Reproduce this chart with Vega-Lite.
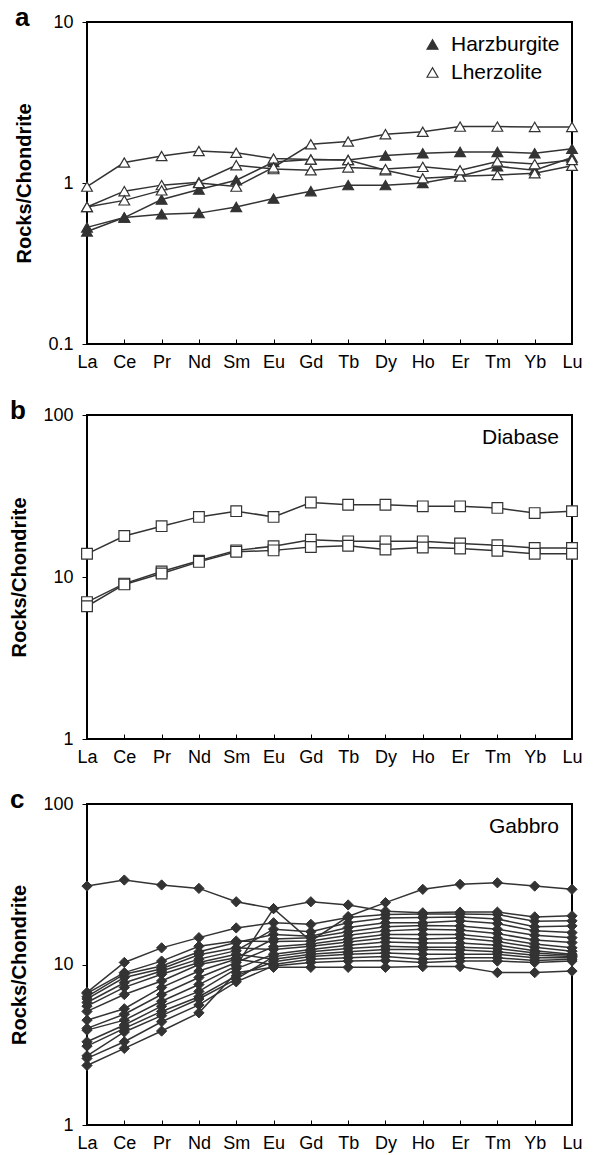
{
"$schema": "https://vega.github.io/schema/vega-lite/v6.json",
"padding": {"left": 8, "top": 4, "right": 5, "bottom": 0},
"config": {
  "font": "Liberation Sans",
  "view": {"stroke": "#000", "strokeWidth": 2},
  "axis": {"grid": false, "domain": false, "labelColor": "#000", "tickColor": "#000", "titleColor": "#000"},
  "axisX": {"tickSize": -5, "labelPadding": 14, "labelFontSize": 18, "labelAngle": 0, "title": null},
  "axisY": {"tickSize": 5, "labelPadding": 9, "labelFontSize": 18, "titleFontSize": 20, "titleFontWeight": "bold", "titlePadding": 13},
  "legend": {"orient": "top-right", "offset": 12, "padding": 0, "title": null, "labelFontSize": 21, "labelColor": "#000", "rowPadding": 6, "labelOffset": 8},
  "title": {"anchor": "start", "frame": "bounds", "fontSize": 26, "fontWeight": "bold", "color": "#000", "offset": 0, "dy": 22, "dx": 0, "baseline": "bottom"}
},
"spacing": 19,
"resolve": {"scale": {"fill": "independent", "y": "independent"}, "legend": {"fill": "independent"}},
"vconcat": [
 {
  "spacing": 25,
  "resolve": {"scale": {"fill": "independent", "y": "independent"}, "legend": {"fill": "independent"}},
  "vconcat": [
  {
    "width": 485, "height": 322,
    "title": "a",
    "data": {"values": [
      {"s":"H1","t":"Harzburgite","e":"La","v":0.53},{"s":"H1","t":"Harzburgite","e":"Ce","v":0.61},{"s":"H1","t":"Harzburgite","e":"Pr","v":0.64},{"s":"H1","t":"Harzburgite","e":"Nd","v":0.65},{"s":"H1","t":"Harzburgite","e":"Sm","v":0.71},{"s":"H1","t":"Harzburgite","e":"Eu","v":0.80},{"s":"H1","t":"Harzburgite","e":"Gd","v":0.89},{"s":"H1","t":"Harzburgite","e":"Tb","v":0.97},{"s":"H1","t":"Harzburgite","e":"Dy","v":0.97},{"s":"H1","t":"Harzburgite","e":"Ho","v":1.0},{"s":"H1","t":"Harzburgite","e":"Er","v":1.1},{"s":"H1","t":"Harzburgite","e":"Tm","v":1.27},{"s":"H1","t":"Harzburgite","e":"Yb","v":1.2},{"s":"H1","t":"Harzburgite","e":"Lu","v":1.44},
      {"s":"H2","t":"Harzburgite","e":"La","v":0.50},{"s":"H2","t":"Harzburgite","e":"Ce","v":0.61},{"s":"H2","t":"Harzburgite","e":"Pr","v":0.79},{"s":"H2","t":"Harzburgite","e":"Nd","v":0.91},{"s":"H2","t":"Harzburgite","e":"Sm","v":1.04},{"s":"H2","t":"Harzburgite","e":"Eu","v":1.35},{"s":"H2","t":"Harzburgite","e":"Gd","v":1.40},{"s":"H2","t":"Harzburgite","e":"Tb","v":1.39},{"s":"H2","t":"Harzburgite","e":"Dy","v":1.48},{"s":"H2","t":"Harzburgite","e":"Ho","v":1.53},{"s":"H2","t":"Harzburgite","e":"Er","v":1.56},{"s":"H2","t":"Harzburgite","e":"Tm","v":1.56},{"s":"H2","t":"Harzburgite","e":"Yb","v":1.53},{"s":"H2","t":"Harzburgite","e":"Lu","v":1.63},
      {"s":"L1","t":"Lherzolite","e":"La","v":0.95},{"s":"L1","t":"Lherzolite","e":"Ce","v":1.34},{"s":"L1","t":"Lherzolite","e":"Pr","v":1.47},{"s":"L1","t":"Lherzolite","e":"Nd","v":1.58},{"s":"L1","t":"Lherzolite","e":"Sm","v":1.54},{"s":"L1","t":"Lherzolite","e":"Eu","v":1.42},{"s":"L1","t":"Lherzolite","e":"Gd","v":1.40},{"s":"L1","t":"Lherzolite","e":"Tb","v":1.39},{"s":"L1","t":"Lherzolite","e":"Dy","v":1.20},{"s":"L1","t":"Lherzolite","e":"Ho","v":1.07},{"s":"L1","t":"Lherzolite","e":"Er","v":1.10},{"s":"L1","t":"Lherzolite","e":"Tm","v":1.12},{"s":"L1","t":"Lherzolite","e":"Yb","v":1.15},{"s":"L1","t":"Lherzolite","e":"Lu","v":1.28},
      {"s":"L2","t":"Lherzolite","e":"La","v":0.71},{"s":"L2","t":"Lherzolite","e":"Ce","v":0.89},{"s":"L2","t":"Lherzolite","e":"Pr","v":0.97},{"s":"L2","t":"Lherzolite","e":"Nd","v":1.01},{"s":"L2","t":"Lherzolite","e":"Sm","v":1.29},{"s":"L2","t":"Lherzolite","e":"Eu","v":1.22},{"s":"L2","t":"Lherzolite","e":"Gd","v":1.20},{"s":"L2","t":"Lherzolite","e":"Tb","v":1.25},{"s":"L2","t":"Lherzolite","e":"Dy","v":1.22},{"s":"L2","t":"Lherzolite","e":"Ho","v":1.26},{"s":"L2","t":"Lherzolite","e":"Er","v":1.20},{"s":"L2","t":"Lherzolite","e":"Tm","v":1.36},{"s":"L2","t":"Lherzolite","e":"Yb","v":1.31},{"s":"L2","t":"Lherzolite","e":"Lu","v":1.39},
      {"s":"L3","t":"Lherzolite","e":"La","v":0.71},{"s":"L3","t":"Lherzolite","e":"Ce","v":0.78},{"s":"L3","t":"Lherzolite","e":"Pr","v":0.90},{"s":"L3","t":"Lherzolite","e":"Nd","v":1.00},{"s":"L3","t":"Lherzolite","e":"Sm","v":0.95},{"s":"L3","t":"Lherzolite","e":"Eu","v":1.25},{"s":"L3","t":"Lherzolite","e":"Gd","v":1.74},{"s":"L3","t":"Lherzolite","e":"Tb","v":1.81},{"s":"L3","t":"Lherzolite","e":"Dy","v":2.01},{"s":"L3","t":"Lherzolite","e":"Ho","v":2.08},{"s":"L3","t":"Lherzolite","e":"Er","v":2.24},{"s":"L3","t":"Lherzolite","e":"Tm","v":2.24},{"s":"L3","t":"Lherzolite","e":"Yb","v":2.23},{"s":"L3","t":"Lherzolite","e":"Lu","v":2.23}
    ]},
    "encoding": {
      "x": {"field": "e", "type": "ordinal", "sort": ["La","Ce","Pr","Nd","Sm","Eu","Gd","Tb","Dy","Ho","Er","Tm","Yb","Lu"], "scale": {"type": "point", "padding": 0}},
      "y": {"field": "v", "type": "quantitative", "scale": {"type": "log", "domain": [0.1, 10], "nice": false}, "axis": {"values": [0.1, 1, 10], "format": "~g", "title": "Rocks/Chondrite"}}
    },
    "layer": [
      {"mark": {"type": "line", "color": "#333", "strokeWidth": 1.5}, "encoding": {"detail": {"field": "s"}}},
      {"mark": {"type": "point", "shape": "triangle-up", "size": 115, "filled": true, "stroke": "#333", "strokeWidth": 1.2, "opacity": 1},
       "encoding": {"fill": {"field": "t", "type": "nominal", "scale": {"domain": ["Harzburgite", "Lherzolite"], "range": ["#333333", "#ffffff"]},
         "legend": {"symbolType": "triangle-up", "symbolSize": 120, "symbolStrokeColor": "#333", "symbolStrokeWidth": 1.2}}}}
    ]
  },
  {
    "width": 485, "height": 324,
    "title": "b",
    "data": {"values": [
      {"s":"D1","t":"Diabase","e":"La","v":13.9},{"s":"D1","t":"Diabase","e":"Ce","v":17.9},{"s":"D1","t":"Diabase","e":"Pr","v":20.6},{"s":"D1","t":"Diabase","e":"Nd","v":23.5},{"s":"D1","t":"Diabase","e":"Sm","v":25.5},{"s":"D1","t":"Diabase","e":"Eu","v":23.5},{"s":"D1","t":"Diabase","e":"Gd","v":28.8},{"s":"D1","t":"Diabase","e":"Tb","v":27.9},{"s":"D1","t":"Diabase","e":"Dy","v":27.9},{"s":"D1","t":"Diabase","e":"Ho","v":27.3},{"s":"D1","t":"Diabase","e":"Er","v":27.3},{"s":"D1","t":"Diabase","e":"Tm","v":26.7},{"s":"D1","t":"Diabase","e":"Yb","v":24.8},{"s":"D1","t":"Diabase","e":"Lu","v":25.5},
      {"s":"D2","t":"Diabase","e":"La","v":7.0},{"s":"D2","t":"Diabase","e":"Ce","v":9.1},{"s":"D2","t":"Diabase","e":"Pr","v":10.8},{"s":"D2","t":"Diabase","e":"Nd","v":12.6},{"s":"D2","t":"Diabase","e":"Sm","v":14.6},{"s":"D2","t":"Diabase","e":"Eu","v":15.5},{"s":"D2","t":"Diabase","e":"Gd","v":17.0},{"s":"D2","t":"Diabase","e":"Tb","v":16.6},{"s":"D2","t":"Diabase","e":"Dy","v":16.6},{"s":"D2","t":"Diabase","e":"Ho","v":16.6},{"s":"D2","t":"Diabase","e":"Er","v":16.1},{"s":"D2","t":"Diabase","e":"Tm","v":15.7},{"s":"D2","t":"Diabase","e":"Yb","v":15.1},{"s":"D2","t":"Diabase","e":"Lu","v":15.1},
      {"s":"D3","t":"Diabase","e":"La","v":6.6},{"s":"D3","t":"Diabase","e":"Ce","v":9.0},{"s":"D3","t":"Diabase","e":"Pr","v":10.5},{"s":"D3","t":"Diabase","e":"Nd","v":12.4},{"s":"D3","t":"Diabase","e":"Sm","v":14.3},{"s":"D3","t":"Diabase","e":"Eu","v":14.6},{"s":"D3","t":"Diabase","e":"Gd","v":15.3},{"s":"D3","t":"Diabase","e":"Tb","v":15.6},{"s":"D3","t":"Diabase","e":"Dy","v":14.8},{"s":"D3","t":"Diabase","e":"Ho","v":15.2},{"s":"D3","t":"Diabase","e":"Er","v":15.0},{"s":"D3","t":"Diabase","e":"Tm","v":14.5},{"s":"D3","t":"Diabase","e":"Yb","v":13.9},{"s":"D3","t":"Diabase","e":"Lu","v":13.9}
    ]},
    "encoding": {
      "x": {"field": "e", "type": "ordinal", "sort": ["La","Ce","Pr","Nd","Sm","Eu","Gd","Tb","Dy","Ho","Er","Tm","Yb","Lu"], "scale": {"type": "point", "padding": 0}},
      "y": {"field": "v", "type": "quantitative", "scale": {"type": "log", "domain": [1, 100], "nice": false}, "axis": {"values": [1, 10, 100], "format": "~g", "title": "Rocks/Chondrite"}}
    },
    "layer": [
      {"mark": {"type": "line", "color": "#333", "strokeWidth": 1.5}, "encoding": {"detail": {"field": "s"}}},
      {"mark": {"type": "point", "shape": "square", "size": 115, "filled": true, "stroke": "#333", "strokeWidth": 1.2, "opacity": 1},
       "encoding": {"fill": {"field": "t", "type": "nominal", "scale": {"domain": ["Diabase"], "range": ["#ffffff"]},
         "legend": {"symbolOpacity": 0, "symbolStrokeWidth": 0}}}}
    ]
  }
  ]
 },
  {
    "width": 485, "height": 321,
    "title": "c",
    "data": {"values": [
      {"s":"G1","t":"Gabbro","e":"La","v":30.8},{"s":"G1","t":"Gabbro","e":"Ce","v":33.6},{"s":"G1","t":"Gabbro","e":"Pr","v":31.3},{"s":"G1","t":"Gabbro","e":"Nd","v":29.8},{"s":"G1","t":"Gabbro","e":"Sm","v":24.6},{"s":"G1","t":"Gabbro","e":"Eu","v":22.3},{"s":"G1","t":"Gabbro","e":"Gd","v":14.0},{"s":"G1","t":"Gabbro","e":"Tb","v":19.9},{"s":"G1","t":"Gabbro","e":"Dy","v":24.3},{"s":"G1","t":"Gabbro","e":"Ho","v":29.4},{"s":"G1","t":"Gabbro","e":"Er","v":31.6},{"s":"G1","t":"Gabbro","e":"Tm","v":32.3},{"s":"G1","t":"Gabbro","e":"Yb","v":30.8},{"s":"G1","t":"Gabbro","e":"Lu","v":29.4},
      {"s":"G2","t":"Gabbro","e":"La","v":6.7},{"s":"G2","t":"Gabbro","e":"Ce","v":10.3},{"s":"G2","t":"Gabbro","e":"Pr","v":12.7},{"s":"G2","t":"Gabbro","e":"Nd","v":14.7},{"s":"G2","t":"Gabbro","e":"Sm","v":16.9},{"s":"G2","t":"Gabbro","e":"Eu","v":18.2},{"s":"G2","t":"Gabbro","e":"Gd","v":17.8},{"s":"G2","t":"Gabbro","e":"Tb","v":19.6},{"s":"G2","t":"Gabbro","e":"Dy","v":20.5},{"s":"G2","t":"Gabbro","e":"Ho","v":20.6},{"s":"G2","t":"Gabbro","e":"Er","v":20.6},{"s":"G2","t":"Gabbro","e":"Tm","v":20.5},{"s":"G2","t":"Gabbro","e":"Yb","v":18.6},{"s":"G2","t":"Gabbro","e":"Lu","v":18.7},
      {"s":"G3","t":"Gabbro","e":"La","v":6.6},{"s":"G3","t":"Gabbro","e":"Ce","v":8.9},{"s":"G3","t":"Gabbro","e":"Pr","v":10.5},{"s":"G3","t":"Gabbro","e":"Nd","v":13.0},{"s":"G3","t":"Gabbro","e":"Sm","v":14.0},{"s":"G3","t":"Gabbro","e":"Eu","v":13.9},{"s":"G3","t":"Gabbro","e":"Gd","v":14.0},{"s":"G3","t":"Gabbro","e":"Tb","v":15.2},{"s":"G3","t":"Gabbro","e":"Dy","v":16.2},{"s":"G3","t":"Gabbro","e":"Ho","v":16.6},{"s":"G3","t":"Gabbro","e":"Er","v":16.4},{"s":"G3","t":"Gabbro","e":"Tm","v":15.6},{"s":"G3","t":"Gabbro","e":"Yb","v":14.2},{"s":"G3","t":"Gabbro","e":"Lu","v":13.7},
      {"s":"G4","t":"Gabbro","e":"La","v":6.3},{"s":"G4","t":"Gabbro","e":"Ce","v":8.7},{"s":"G4","t":"Gabbro","e":"Pr","v":9.8},{"s":"G4","t":"Gabbro","e":"Nd","v":12.0},{"s":"G4","t":"Gabbro","e":"Sm","v":13.7},{"s":"G4","t":"Gabbro","e":"Eu","v":15.4},{"s":"G4","t":"Gabbro","e":"Gd","v":15.0},{"s":"G4","t":"Gabbro","e":"Tb","v":17.0},{"s":"G4","t":"Gabbro","e":"Dy","v":18.2},{"s":"G4","t":"Gabbro","e":"Ho","v":18.2},{"s":"G4","t":"Gabbro","e":"Er","v":18.7},{"s":"G4","t":"Gabbro","e":"Tm","v":18.0},{"s":"G4","t":"Gabbro","e":"Yb","v":16.2},{"s":"G4","t":"Gabbro","e":"Lu","v":15.8},
      {"s":"G5","t":"Gabbro","e":"La","v":6.1},{"s":"G5","t":"Gabbro","e":"Ce","v":8.3},{"s":"G5","t":"Gabbro","e":"Pr","v":9.4},{"s":"G5","t":"Gabbro","e":"Nd","v":11.5},{"s":"G5","t":"Gabbro","e":"Sm","v":12.7},{"s":"G5","t":"Gabbro","e":"Eu","v":12.4},{"s":"G5","t":"Gabbro","e":"Gd","v":13.0},{"s":"G5","t":"Gabbro","e":"Tb","v":13.8},{"s":"G5","t":"Gabbro","e":"Dy","v":14.6},{"s":"G5","t":"Gabbro","e":"Ho","v":14.4},{"s":"G5","t":"Gabbro","e":"Er","v":14.6},{"s":"G5","t":"Gabbro","e":"Tm","v":13.9},{"s":"G5","t":"Gabbro","e":"Yb","v":12.8},{"s":"G5","t":"Gabbro","e":"Lu","v":12.1},
      {"s":"G6","t":"Gabbro","e":"La","v":5.8},{"s":"G6","t":"Gabbro","e":"Ce","v":7.7},{"s":"G6","t":"Gabbro","e":"Pr","v":9.1},{"s":"G6","t":"Gabbro","e":"Nd","v":10.8},{"s":"G6","t":"Gabbro","e":"Sm","v":12.2},{"s":"G6","t":"Gabbro","e":"Eu","v":16.6},{"s":"G6","t":"Gabbro","e":"Gd","v":16.0},{"s":"G6","t":"Gabbro","e":"Tb","v":18.2},{"s":"G6","t":"Gabbro","e":"Dy","v":19.5},{"s":"G6","t":"Gabbro","e":"Ho","v":19.6},{"s":"G6","t":"Gabbro","e":"Er","v":19.8},{"s":"G6","t":"Gabbro","e":"Tm","v":19.2},{"s":"G6","t":"Gabbro","e":"Yb","v":17.2},{"s":"G6","t":"Gabbro","e":"Lu","v":17.4},
      {"s":"G7","t":"Gabbro","e":"La","v":5.5},{"s":"G7","t":"Gabbro","e":"Ce","v":7.2},{"s":"G7","t":"Gabbro","e":"Pr","v":8.7},{"s":"G7","t":"Gabbro","e":"Nd","v":10.3},{"s":"G7","t":"Gabbro","e":"Sm","v":11.6},{"s":"G7","t":"Gabbro","e":"Eu","v":10.8},{"s":"G7","t":"Gabbro","e":"Gd","v":11.6},{"s":"G7","t":"Gabbro","e":"Tb","v":12.0},{"s":"G7","t":"Gabbro","e":"Dy","v":12.4},{"s":"G7","t":"Gabbro","e":"Ho","v":12.4},{"s":"G7","t":"Gabbro","e":"Er","v":12.3},{"s":"G7","t":"Gabbro","e":"Tm","v":12.0},{"s":"G7","t":"Gabbro","e":"Yb","v":11.4},{"s":"G7","t":"Gabbro","e":"Lu","v":11.2},
      {"s":"G8","t":"Gabbro","e":"La","v":5.1},{"s":"G8","t":"Gabbro","e":"Ce","v":6.5},{"s":"G8","t":"Gabbro","e":"Pr","v":7.9},{"s":"G8","t":"Gabbro","e":"Nd","v":10.0},{"s":"G8","t":"Gabbro","e":"Sm","v":11.0},{"s":"G8","t":"Gabbro","e":"Eu","v":14.4},{"s":"G8","t":"Gabbro","e":"Gd","v":14.7},{"s":"G8","t":"Gabbro","e":"Tb","v":16.0},{"s":"G8","t":"Gabbro","e":"Dy","v":17.2},{"s":"G8","t":"Gabbro","e":"Ho","v":17.5},{"s":"G8","t":"Gabbro","e":"Er","v":17.4},{"s":"G8","t":"Gabbro","e":"Tm","v":16.6},{"s":"G8","t":"Gabbro","e":"Yb","v":15.2},{"s":"G8","t":"Gabbro","e":"Lu","v":14.7},
      {"s":"G9","t":"Gabbro","e":"La","v":4.5},{"s":"G9","t":"Gabbro","e":"Ce","v":5.3},{"s":"G9","t":"Gabbro","e":"Pr","v":7.2},{"s":"G9","t":"Gabbro","e":"Nd","v":9.1},{"s":"G9","t":"Gabbro","e":"Sm","v":10.8},{"s":"G9","t":"Gabbro","e":"Eu","v":10.0},{"s":"G9","t":"Gabbro","e":"Gd","v":10.8},{"s":"G9","t":"Gabbro","e":"Tb","v":11.0},{"s":"G9","t":"Gabbro","e":"Dy","v":11.2},{"s":"G9","t":"Gabbro","e":"Ho","v":10.8},{"s":"G9","t":"Gabbro","e":"Er","v":11.0},{"s":"G9","t":"Gabbro","e":"Tm","v":11.0},{"s":"G9","t":"Gabbro","e":"Yb","v":10.6},{"s":"G9","t":"Gabbro","e":"Lu","v":10.8},
      {"s":"G10","t":"Gabbro","e":"La","v":4.0},{"s":"G10","t":"Gabbro","e":"Ce","v":4.9},{"s":"G10","t":"Gabbro","e":"Pr","v":6.5},{"s":"G10","t":"Gabbro","e":"Nd","v":8.3},{"s":"G10","t":"Gabbro","e":"Sm","v":10.3},{"s":"G10","t":"Gabbro","e":"Eu","v":12.9},{"s":"G10","t":"Gabbro","e":"Gd","v":13.4},{"s":"G10","t":"Gabbro","e":"Tb","v":14.4},{"s":"G10","t":"Gabbro","e":"Dy","v":15.4},{"s":"G10","t":"Gabbro","e":"Ho","v":15.4},{"s":"G10","t":"Gabbro","e":"Er","v":15.4},{"s":"G10","t":"Gabbro","e":"Tm","v":14.6},{"s":"G10","t":"Gabbro","e":"Yb","v":13.4},{"s":"G10","t":"Gabbro","e":"Lu","v":12.7},
      {"s":"G11","t":"Gabbro","e":"La","v":3.9},{"s":"G11","t":"Gabbro","e":"Ce","v":4.5},{"s":"G11","t":"Gabbro","e":"Pr","v":5.9},{"s":"G11","t":"Gabbro","e":"Nd","v":7.5},{"s":"G11","t":"Gabbro","e":"Sm","v":9.8},{"s":"G11","t":"Gabbro","e":"Eu","v":22.3},{"s":"G11","t":"Gabbro","e":"Gd","v":24.6},{"s":"G11","t":"Gabbro","e":"Tb","v":23.5},{"s":"G11","t":"Gabbro","e":"Dy","v":21.5},{"s":"G11","t":"Gabbro","e":"Ho","v":21.0},{"s":"G11","t":"Gabbro","e":"Er","v":21.2},{"s":"G11","t":"Gabbro","e":"Tm","v":21.2},{"s":"G11","t":"Gabbro","e":"Yb","v":19.8},{"s":"G11","t":"Gabbro","e":"Lu","v":20.1},
      {"s":"G12","t":"Gabbro","e":"La","v":3.3},{"s":"G12","t":"Gabbro","e":"Ce","v":4.2},{"s":"G12","t":"Gabbro","e":"Pr","v":5.5},{"s":"G12","t":"Gabbro","e":"Nd","v":6.8},{"s":"G12","t":"Gabbro","e":"Sm","v":9.4},{"s":"G12","t":"Gabbro","e":"Eu","v":11.6},{"s":"G12","t":"Gabbro","e":"Gd","v":12.4},{"s":"G12","t":"Gabbro","e":"Tb","v":13.2},{"s":"G12","t":"Gabbro","e":"Dy","v":13.8},{"s":"G12","t":"Gabbro","e":"Ho","v":13.6},{"s":"G12","t":"Gabbro","e":"Er","v":13.6},{"s":"G12","t":"Gabbro","e":"Tm","v":13.2},{"s":"G12","t":"Gabbro","e":"Yb","v":12.2},{"s":"G12","t":"Gabbro","e":"Lu","v":11.6},
      {"s":"G13","t":"Gabbro","e":"La","v":3.1},{"s":"G13","t":"Gabbro","e":"Ce","v":4.0},{"s":"G13","t":"Gabbro","e":"Pr","v":5.1},{"s":"G13","t":"Gabbro","e":"Nd","v":6.3},{"s":"G13","t":"Gabbro","e":"Sm","v":8.5},{"s":"G13","t":"Gabbro","e":"Eu","v":10.4},{"s":"G13","t":"Gabbro","e":"Gd","v":11.2},{"s":"G13","t":"Gabbro","e":"Tb","v":11.6},{"s":"G13","t":"Gabbro","e":"Dy","v":11.8},{"s":"G13","t":"Gabbro","e":"Ho","v":11.6},{"s":"G13","t":"Gabbro","e":"Er","v":11.6},{"s":"G13","t":"Gabbro","e":"Tm","v":11.6},{"s":"G13","t":"Gabbro","e":"Yb","v":11.0},{"s":"G13","t":"Gabbro","e":"Lu","v":11.0},
      {"s":"G14","t":"Gabbro","e":"La","v":2.7},{"s":"G14","t":"Gabbro","e":"Ce","v":3.8},{"s":"G14","t":"Gabbro","e":"Pr","v":4.8},{"s":"G14","t":"Gabbro","e":"Nd","v":6.1},{"s":"G14","t":"Gabbro","e":"Sm","v":8.1},{"s":"G14","t":"Gabbro","e":"Eu","v":11.2},{"s":"G14","t":"Gabbro","e":"Gd","v":12.0},{"s":"G14","t":"Gabbro","e":"Tb","v":12.6},{"s":"G14","t":"Gabbro","e":"Dy","v":13.0},{"s":"G14","t":"Gabbro","e":"Ho","v":12.8},{"s":"G14","t":"Gabbro","e":"Er","v":12.8},{"s":"G14","t":"Gabbro","e":"Tm","v":12.6},{"s":"G14","t":"Gabbro","e":"Yb","v":11.8},{"s":"G14","t":"Gabbro","e":"Lu","v":11.4},
      {"s":"G15","t":"Gabbro","e":"La","v":2.6},{"s":"G15","t":"Gabbro","e":"Ce","v":3.3},{"s":"G15","t":"Gabbro","e":"Pr","v":4.4},{"s":"G15","t":"Gabbro","e":"Nd","v":5.6},{"s":"G15","t":"Gabbro","e":"Sm","v":7.8},{"s":"G15","t":"Gabbro","e":"Eu","v":9.8},{"s":"G15","t":"Gabbro","e":"Gd","v":10.3},{"s":"G15","t":"Gabbro","e":"Tb","v":10.5},{"s":"G15","t":"Gabbro","e":"Dy","v":10.6},{"s":"G15","t":"Gabbro","e":"Ho","v":10.3},{"s":"G15","t":"Gabbro","e":"Er","v":10.5},{"s":"G15","t":"Gabbro","e":"Tm","v":10.5},{"s":"G15","t":"Gabbro","e":"Yb","v":10.3},{"s":"G15","t":"Gabbro","e":"Lu","v":10.5},
      {"s":"G16","t":"Gabbro","e":"La","v":2.35},{"s":"G16","t":"Gabbro","e":"Ce","v":3.0},{"s":"G16","t":"Gabbro","e":"Pr","v":3.85},{"s":"G16","t":"Gabbro","e":"Nd","v":5.0},{"s":"G16","t":"Gabbro","e":"Sm","v":8.9},{"s":"G16","t":"Gabbro","e":"Eu","v":9.6},{"s":"G16","t":"Gabbro","e":"Gd","v":9.6},{"s":"G16","t":"Gabbro","e":"Tb","v":9.6},{"s":"G16","t":"Gabbro","e":"Dy","v":9.6},{"s":"G16","t":"Gabbro","e":"Ho","v":9.7},{"s":"G16","t":"Gabbro","e":"Er","v":9.7},{"s":"G16","t":"Gabbro","e":"Tm","v":8.9},{"s":"G16","t":"Gabbro","e":"Yb","v":8.9},{"s":"G16","t":"Gabbro","e":"Lu","v":9.1}
    ]},
    "encoding": {
      "x": {"field": "e", "type": "ordinal", "sort": ["La","Ce","Pr","Nd","Sm","Eu","Gd","Tb","Dy","Ho","Er","Tm","Yb","Lu"], "scale": {"type": "point", "padding": 0}},
      "y": {"field": "v", "type": "quantitative", "scale": {"type": "log", "domain": [1, 100], "nice": false}, "axis": {"values": [1, 10, 100], "format": "~g", "title": "Rocks/Chondrite"}}
    },
    "layer": [
      {"mark": {"type": "line", "color": "#333", "strokeWidth": 1.5}, "encoding": {"detail": {"field": "s"}}},
      {"mark": {"type": "point", "shape": "diamond", "size": 105, "filled": true, "stroke": "#333", "strokeWidth": 1, "opacity": 1},
       "encoding": {"fill": {"field": "t", "type": "nominal", "scale": {"domain": ["Gabbro"], "range": ["#333333"]},
         "legend": {"symbolOpacity": 0, "symbolStrokeWidth": 0}}}}
    ]
  }
]
}
